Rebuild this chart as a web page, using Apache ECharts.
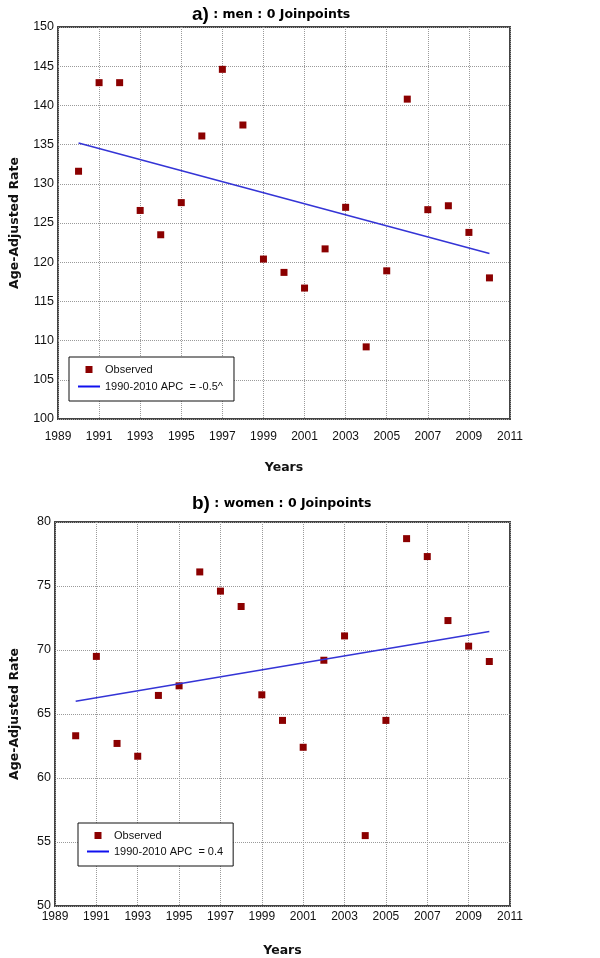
<!DOCTYPE html>
<html>
<head>
<meta charset="utf-8">
<script src="https://cdn.jsdelivr.net/npm/echarts@6/dist/echarts.min.js"></script>
<style>
    html, body { margin: 0; padding: 0; background: #fff; }
    #chart { width: 600px; height: 958px; }
</style>
</head>
<body>
<div id="chart"></div>
<script>
// x axis categories (tick every other one is labelled)
const axisYears = ['1989', '1990', '1991', '1992', '1993', '1994', '1995', '1996', '1997', '1998', '1999', '2000',
    '2001', '2002', '2003', '2004', '2005', '2006', '2007', '2008', '2009', '2010', '2011'];
const obsYears = ['1990', '1991', '1992', '1993', '1994', '1995', '1996', '1997', '1998', '1999', '2000',
    '2001', '2002', '2003', '2004', '2005', '2006', '2007', '2008', '2009', '2010'];

// a) men
const menObserved = [131.6, 142.9, 142.9, 126.6, 123.5, 127.6, 136.1, 144.6, 137.5, 120.4, 118.7,
    116.7, 121.7, 127.0, 109.2, 118.9, 140.8, 126.7, 127.2, 123.8, 118.0];
const menTrendYears = ['1990', '2010'];
const menTrend = [135.2, 121.1];
const menTrendName = '1990-2010 APC  = -0.5^';

// b) women
const womenObserved = [63.3, 69.5, 62.7, 61.7, 66.45, 67.2, 76.1, 74.6, 73.4, 66.5, 64.5,
    62.4, 69.2, 71.1, 55.5, 64.5, 78.7, 77.3, 72.3, 70.3, 69.1];
const womenTrendYears = ['1990', '2010'];
const womenTrend = [66.0, 71.45];
const womenTrendName = '1990-2010 APC  = 0.4';

const tickFont = 'Liberation Sans';
const boldFont = 'DejaVu Sans';
const dotColor = '#8b0000';
const lineColor = '#3434d6';
const squareIcon = 'path://M0,0h1v1h-1z';
const lineIcon = 'path://M0,0h11v1h-11z';

function pairs(xs, ys) {
    return xs.map((x, i) => [x, ys[i]]);
}

function makeXAxis(gridIndex, labelMargin, nameGap) {
    return {
        type: 'category',
        gridIndex: gridIndex,
        data: axisYears,
        boundaryGap: false,
        name: 'Years',
        nameLocation: 'middle',
        nameGap: nameGap,
        nameTextStyle: { fontFamily: boldFont, fontWeight: 'bold', fontSize: 12.5, color: '#111' },
        axisLine: { show: false },
        axisTick: { show: false, interval: 1 },
        axisLabel: { interval: 1, margin: labelMargin, fontFamily: tickFont, fontSize: 12, color: '#111' },
        splitLine: { show: true, interval: 1, lineStyle: { type: 'dotted', color: '#9a9a9a', width: 1 } }
    };
}

function makeYAxis(gridIndex, min, max, nameGap) {
    return {
        type: 'value',
        gridIndex: gridIndex,
        min: min,
        max: max,
        interval: 5,
        name: 'Age-Adjusted Rate',
        nameLocation: 'middle',
        nameGap: nameGap,
        nameTextStyle: { fontFamily: boldFont, fontWeight: 'bold', fontSize: 12.5, color: '#111' },
        axisLine: { show: false },
        axisTick: { show: false },
        axisLabel: { margin: 4, fontFamily: tickFont, fontSize: 12.5, color: '#111' },
        splitLine: { show: true, lineStyle: { type: 'dotted', color: '#9a9a9a', width: 1 } }
    };
}

function makeLegend(left, top, lineName, gap, padRight) {
    return {
        orient: 'vertical',
        left: left,
        top: top,
        backgroundColor: '#fff',
        borderColor: '#111',
        borderWidth: 1,
        borderRadius: 0,
        padding: [7, padRight, 9, 9],
        itemWidth: 22,
        itemHeight: 7,
        itemGap: gap,
        selectedMode: false,
        textStyle: { fontFamily: tickFont, fontSize: 11, color: '#111' },
        data: [
            { name: 'Observed', icon: squareIcon },
            { name: lineName, icon: lineIcon, itemStyle: { color: '#1010ee' } }
        ]
    };
}

function makeTitle(top, letter, text) {
    return {
        left: 187,
        top: top,
        text: '{a|' + letter + ')}{b| ' + text + '}',
        textStyle: {
            rich: {
                a: { fontFamily: tickFont, fontWeight: 'bold', fontSize: 19, color: '#000' },
                b: { fontFamily: boldFont, fontWeight: 'bold', fontSize: 12.5, color: '#000' }
            }
        }
    };
}

const option = {
    animation: false,
    backgroundColor: '#fff',
    title: [
        makeTitle(0, 'a', ': men : 0 Joinpoints'),
        makeTitle(489, 'b', ': women : 0 Joinpoints')
    ],
    legend: [
        makeLegend(69, 357, menTrendName, 6, 11),
        makeLegend(78, 823, womenTrendName, 5, 10)
    ],
    grid: [
        { left: 52, right: 90, top: 27, height: 392, show: true, borderColor: '#444', borderWidth: 2 },
        { left: 48, right: 90, top: 522, height: 386, show: true, borderColor: '#444', borderWidth: 2 }
    ],
    xAxis: [makeXAxis(0, 12, 42), makeXAxis(1, 5, 38)],
    yAxis: [makeYAxis(0, 100, 150, 37), makeYAxis(1, 50, 80, 34)],
    series: [
        {
            name: 'Observed',
            type: 'scatter',
            xAxisIndex: 0,
            yAxisIndex: 0,
            symbol: 'rect',
            symbolSize: 7,
            itemStyle: { color: dotColor, opacity: 1 },
            data: pairs(obsYears, menObserved)
        },
        {
            name: menTrendName,
            type: 'line',
            xAxisIndex: 0,
            yAxisIndex: 0,
            symbol: 'none',
            lineStyle: { color: lineColor, width: 1.5 },
            itemStyle: { color: lineColor },
            data: pairs(menTrendYears, menTrend)
        },
        {
            name: 'Observed',
            type: 'scatter',
            xAxisIndex: 1,
            yAxisIndex: 1,
            symbol: 'rect',
            symbolSize: 7,
            itemStyle: { color: dotColor, opacity: 1 },
            data: pairs(obsYears, womenObserved)
        },
        {
            name: womenTrendName,
            type: 'line',
            xAxisIndex: 1,
            yAxisIndex: 1,
            symbol: 'none',
            lineStyle: { color: lineColor, width: 1.5 },
            itemStyle: { color: lineColor },
            data: pairs(womenTrendYears, womenTrend)
        }
    ]
};

const chart = echarts.init(document.getElementById('chart'));
chart.setOption(option);
</script>
</body>
</html>
